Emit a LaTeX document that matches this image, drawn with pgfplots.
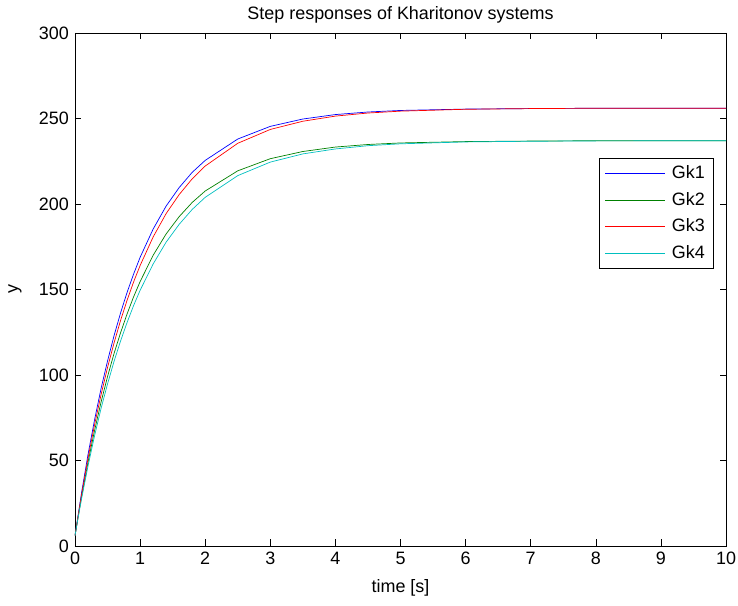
\documentclass[border=0pt]{standalone}
\usepackage{fontspec}
\setmainfont{Liberation Sans}
\usepackage{pgfplots}
\pgfplotsset{compat=1.18}

\definecolor{mblue}{rgb}{0,0,1}
\definecolor{mgreen}{rgb}{0,0.5,0}
\definecolor{mred}{rgb}{1,0,0}
\definecolor{mcyan}{rgb}{0,0.75,0.75}

\begin{document}
\fontsize{18}{21}\selectfont
\begin{tikzpicture}
\useasboundingbox (-75bp,-60bp) rectangle (663bp,546bp);
\begin{axis}[
    at={(0,0)}, anchor=south west,
    scale only axis,
    width=651bp, height=513bp,
    xmin=0, xmax=10,
    ymin=0, ymax=300,
    xtick={0,1,...,10},
    ytick={0,50,...,300},
    tick align=inside,
    major tick length=6.5bp,
    axis line style={line width=0.6bp},
    every tick/.style={line width=0.6bp, black},
    /pgf/number format/assume math mode=true,
    title={Step responses of Kharitonov systems},
    title style={yshift=-2bp},
    xlabel={time [s]},
    ylabel={y},
    every axis x label/.style={at={(axis description cs:0.5,-0.082)}, anchor=center},
    every axis y label/.style={at={(axis description cs:-0.092,0.5)}, rotate=90, anchor=center},
    legend style={at={(0.980,0.756)}, anchor=north east,
        inner xsep=6bp, inner ysep=5bp, row sep=7bp, column sep=5bp},
    legend cell align=left,
    legend image post style={xscale=3.5, line width=0.6bp},
]
% Gk1
\addplot[color=mblue, line width=0.7bp] coordinates {
    (0,6) (0.05,18.5) (0.1,31) (0.2,53.5) (0.3,73.7) (0.4,92) (0.5,108.2)
    (0.6,123) (0.7,136.3) (0.8,148.3) (0.9,159) (1.0,168.8) (1.2,185.3)
    (1.4,198.8) (1.6,209.6) (1.8,218.5) (2.0,225.5) (2.5,238) (3.0,245.4)
    (3.5,249.7) (4.0,252.3) (4.5,253.8) (5,254.7) (6,255.5) (7,255.8)
    (8,256) (10,256)
};
\addlegendentry{Gk1}
% Gk2
\addplot[color=mgreen, line width=0.7bp] coordinates {
    (0,6) (0.05,17.5) (0.1,28.6) (0.2,49) (0.3,67.4) (0.4,84.1) (0.5,99.1)
    (0.6,112.6) (0.7,124.7) (0.8,135.7) (0.9,145.7) (1.0,154.6) (1.2,170)
    (1.4,182.5) (1.6,192.6) (1.8,200.9) (2.0,207.6) (2.5,219.4) (3.0,226.5)
    (3.5,230.7) (4.0,233.3) (4.5,234.8) (5,235.7) (6,236.5) (7,236.8)
    (8,237) (10,237)
};
\addlegendentry{Gk2}
% Gk3
\addplot[color=mred, line width=0.7bp] coordinates {
    (0,6) (0.05,18) (0.1,29.8) (0.2,51.3) (0.3,70.8) (0.4,88.4) (0.5,104.4)
    (0.6,118.8) (0.7,131.9) (0.8,143.7) (0.9,154.4) (1.0,164) (1.2,180.7)
    (1.4,194.4) (1.6,205.5) (1.8,214.7) (2.0,222.2) (2.5,235.5) (3.0,243.6)
    (3.5,248.4) (4.0,251.4) (4.5,253.2) (5,254.3) (6,255.4) (7,255.8)
    (8,256) (10,256)
};
\addlegendentry{Gk3}
% Gk4
\addplot[color=mcyan, line width=0.7bp] coordinates {
    (0,6) (0.05,17) (0.1,27.4) (0.2,46.8) (0.3,64.4) (0.4,80.4) (0.5,94.8)
    (0.6,108) (0.7,119.9) (0.8,130.7) (0.9,140.6) (1.0,149.5) (1.2,164.9)
    (1.4,177.7) (1.6,188.1) (1.8,196.8) (2.0,203.9) (2.5,216.6) (3.0,224.5)
    (3.5,229.3) (4.0,232.2) (4.5,234.1) (5,235.2) (6,236.3) (7,236.7)
    (8,236.9) (10,237)
};
\addlegendentry{Gk4}
\end{axis}
\end{tikzpicture}
\end{document}
